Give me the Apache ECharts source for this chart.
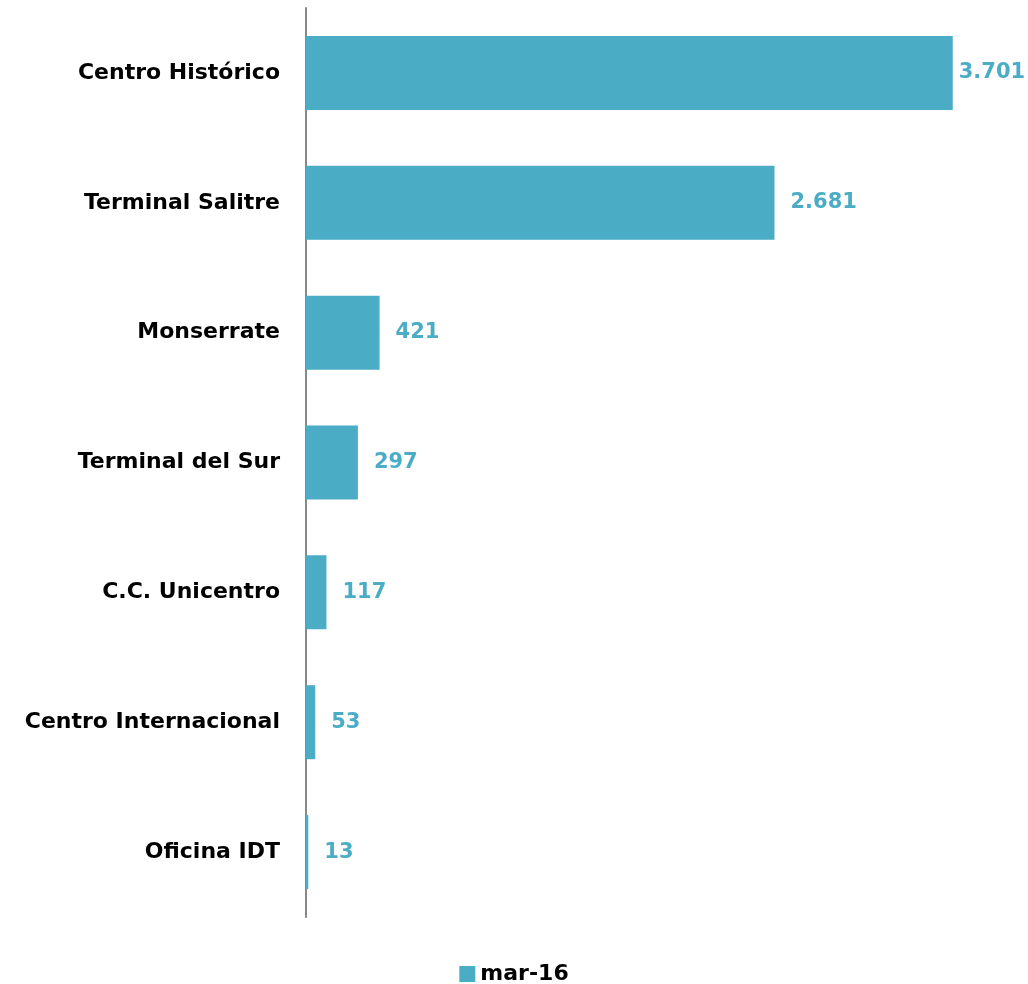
<!DOCTYPE html>
<html>
<head>
<meta charset="utf-8">
<script src="https://cdn.jsdelivr.net/npm/echarts@6/dist/echarts.min.js"></script>
<style>
  html, body { margin: 0; padding: 0; background: #fff; }
  #chart { width: 1028px; height: 984px; }
</style>
</head>
<body>
<div id="chart"></div>
<script>
// datos
const categories = ['Centro Histórico', 'Terminal Salitre', 'Monserrate', 'Terminal del Sur', 'C.C. Unicentro', 'Centro Internacional', 'Oficina IDT']
const values = [3701, 2681, 421, 297, 117, 53, 13]
const seriesName = 'mar-16'

const barColor = '#4BACC6'
const font = '"DejaVu Sans", "Noto Sans", sans-serif'

// separador de miles con punto (3.701)
const fmt = v => String(v).replace(/\B(?=(\d{3})+(?!\d))/g, '.')

const chart = echarts.init(document.getElementById('chart'))

const option = {
  animation: false,
  grid: { left: 306, right: 23, top: 8, bottom: 67, containLabel: false },
  legend: {
    data: [seriesName],
    left: 'center',
    top: 958,
    icon: 'rect',
    itemWidth: 16,
    itemHeight: 16,
    itemGap: 6,
    textStyle: { fontFamily: font, fontWeight: 'bold', fontSize: 22, color: '#000' }
  },
  xAxis: {
    type: 'value',
    min: 0,
    max: 4000,
    show: false
  },
  yAxis: {
    type: 'category',
    data: categories,
    inverse: true,
    axisLine: { show: true, lineStyle: { color: '#898989', width: 2 } },
    axisTick: { show: false },
    axisLabel: { fontFamily: font, fontWeight: 'bold', fontSize: 22, color: '#000', margin: 26 }
  },
  series: [
    {
      name: seriesName,
      type: 'bar',
      barWidth: 74,
      itemStyle: { color: barColor },
      label: {
        show: true,
        position: 'right',
        distance: 16,
        fontFamily: font,
        fontWeight: 'bold',
        fontSize: 21,
        color: barColor,
        formatter: p => fmt(p.value)
      },
      data: values.map((v, i) => i === 0 ? { value: v, label: { distance: 6 } } : v)
    }
  ]
}

chart.setOption(option)
</script>
</body>
</html>
